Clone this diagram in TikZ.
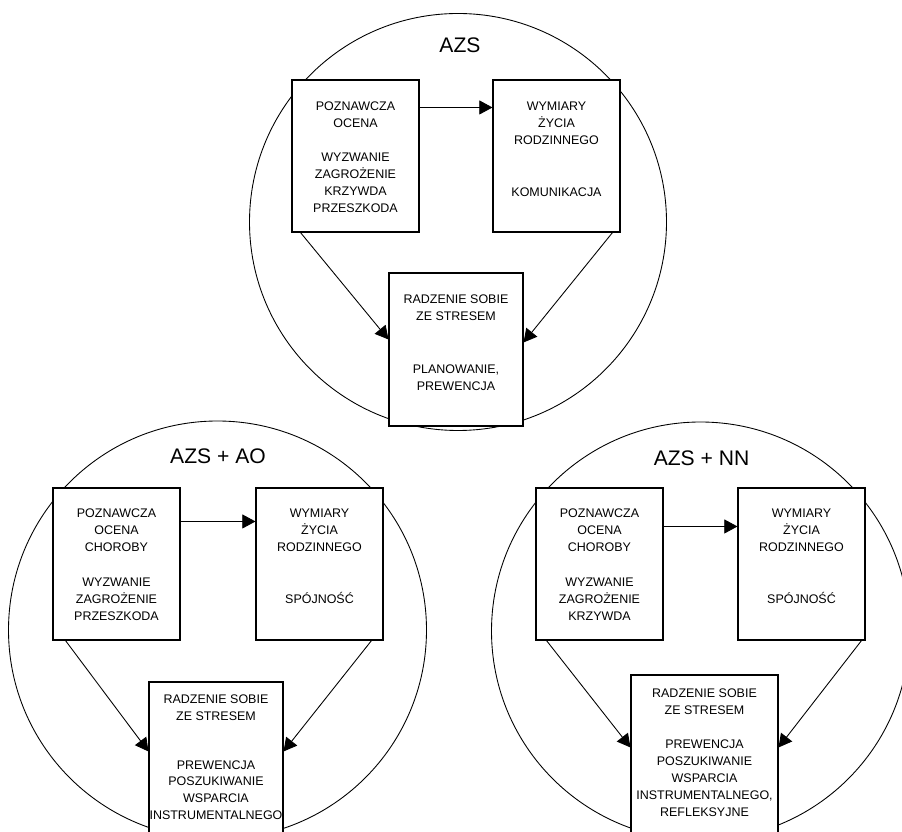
\documentclass[tikz,border=0pt]{standalone}
\usepackage{fontspec}
\setmainfont{Liberation Sans}
\usetikzlibrary{arrows.meta,positioning}

\newcommand{\boxtext}[4]{\parbox[c][#2][t]{#1}{\centering\vspace*{#3}\strut #4}}

\begin{document}
\begin{tikzpicture}[
  every node/.style={font=\fontsize{7.1}{9.67}\selectfont},
  ring/.style={draw, circle, line width=0.5pt, inner sep=0pt},
  box/.style={draw, fill=white, line width=0.6pt, inner sep=0pt},
  title/.style={font=\fontsize{12}{14}\selectfont},
  arrow/.style={-{Triangle[length=7.5pt,width=8pt]}, line width=0.5pt},
  ]

\useasboundingbox (0,0) rectangle (18.04,-16.64);
\clip (0,0) rectangle (18.04,-16.64);

% Circles
\node[ring, minimum size=8.34cm] (ringA) at (9.16,-4.44) {};
\node[ring, minimum size=8.36cm] (ringB) at (4.35,-12.6) {};
\node[ring, minimum size=8.36cm] (ringC) at (14.01,-12.62) {};

% AZS
\node[title] (titleA) at (9.2,-0.9) {AZS};
\node[box] (ocenaA) at (7.11,-3.12) {\boxtext{2.54cm}{3.04cm}{10.6pt}{POZNAWCZA\\OCENA\\[9.7pt]WYZWANIE\\ZAGROŻENIE\\KRZYWDA\\PRZESZKODA}};
\node[box] (wymiaryA) at (11.13,-3.12) {\boxtext{2.54cm}{3.04cm}{10.6pt}{WYMIARY\\ŻYCIA\\RODZINNEGO\\[19.9pt]KOMUNIKACJA}};
\node[box] (stresA) at (9.12,-6.99) {\boxtext{2.68cm}{3.06cm}{10.6pt}{RADZENIE SOBIE\\ZE STRESEM\\[20.5pt]PLANOWANIE,\\PREWENCJA}};

% AZS + AO
\node[title] (titleB) at (4.36,-9.12) {AZS + AO};
\node[box] (ocenaB) at (2.33,-11.28) {\boxtext{2.54cm}{3.04cm}{10.3pt}{POZNAWCZA\\OCENA\\CHOROBY\\[9.7pt]WYZWANIE\\ZAGROŻENIE\\PRZESZKODA}};
\node[box] (wymiaryB) at (6.39,-11.28) {\boxtext{2.54cm}{3.04cm}{10.3pt}{WYMIARY\\ŻYCIA\\RODZINNEGO\\[19.9pt]SPÓJNOŚĆ}};
\node[box] (stresB) at (4.32,-15.34) {\boxtext{2.68cm}{3.4cm}{5.2pt}{RADZENIE SOBIE\\ZE STRESEM\\[18.2pt]PREWENCJA\\POSZUKIWANIE\\WSPARCIA\\INSTRUMENTALNEGO}};

% AZS + NN
\node[title] (titleC) at (14.03,-9.16) {AZS + NN};
\node[box] (ocenaC) at (11.99,-11.28) {\boxtext{2.54cm}{3.04cm}{10.3pt}{POZNAWCZA\\OCENA\\CHOROBY\\[9.7pt]WYZWANIE\\ZAGROŻENIE\\KRZYWDA}};
\node[box] (wymiaryC) at (16.03,-11.28) {\boxtext{2.54cm}{3.04cm}{10.3pt}{WYMIARY\\ŻYCIA\\RODZINNEGO\\[19.9pt]SPÓJNOŚĆ}};
\node[box] (stresC) at (14.09,-15.2) {\boxtext{2.94cm}{3.4cm}{6.3pt}{RADZENIE SOBIE\\ZE STRESEM\\[9.7pt]PREWENCJA\\POSZUKIWANIE\\WSPARCIA\\INSTRUMENTALNEGO,\\REFLEKSYJNE}};

% Arrows
\draw[arrow] ([yshift=-0.56cm]ocenaA.north east) -- ([yshift=-0.56cm]wymiaryA.north west);
\draw[arrow] ([xshift=0.18cm]ocenaA.south west) -- ([yshift=-1.34cm]stresA.north west);
\draw[arrow] ([xshift=-0.16cm]wymiaryA.south east) -- ([yshift=-1.4cm]stresA.north east);

\draw[arrow] ([yshift=-0.68cm]ocenaB.north east) -- ([yshift=-0.68cm]wymiaryB.north west);
\draw[arrow] ([xshift=0.26cm]ocenaB.south west) -- ([yshift=-1.4cm]stresB.north west);
\draw[arrow] ([xshift=-0.24cm]wymiaryB.south east) -- ([yshift=-1.4cm]stresB.north east);

\draw[arrow] ([yshift=-0.78cm]ocenaC.north east) -- ([yshift=-0.78cm]wymiaryC.north west);
\draw[arrow] ([xshift=0.22cm]ocenaC.south west) -- ([yshift=-1.46cm]stresC.north west);
\draw[arrow] ([xshift=-0.08cm]wymiaryC.south east) -- ([yshift=-1.46cm]stresC.north east);

\end{tikzpicture}
\end{document}
